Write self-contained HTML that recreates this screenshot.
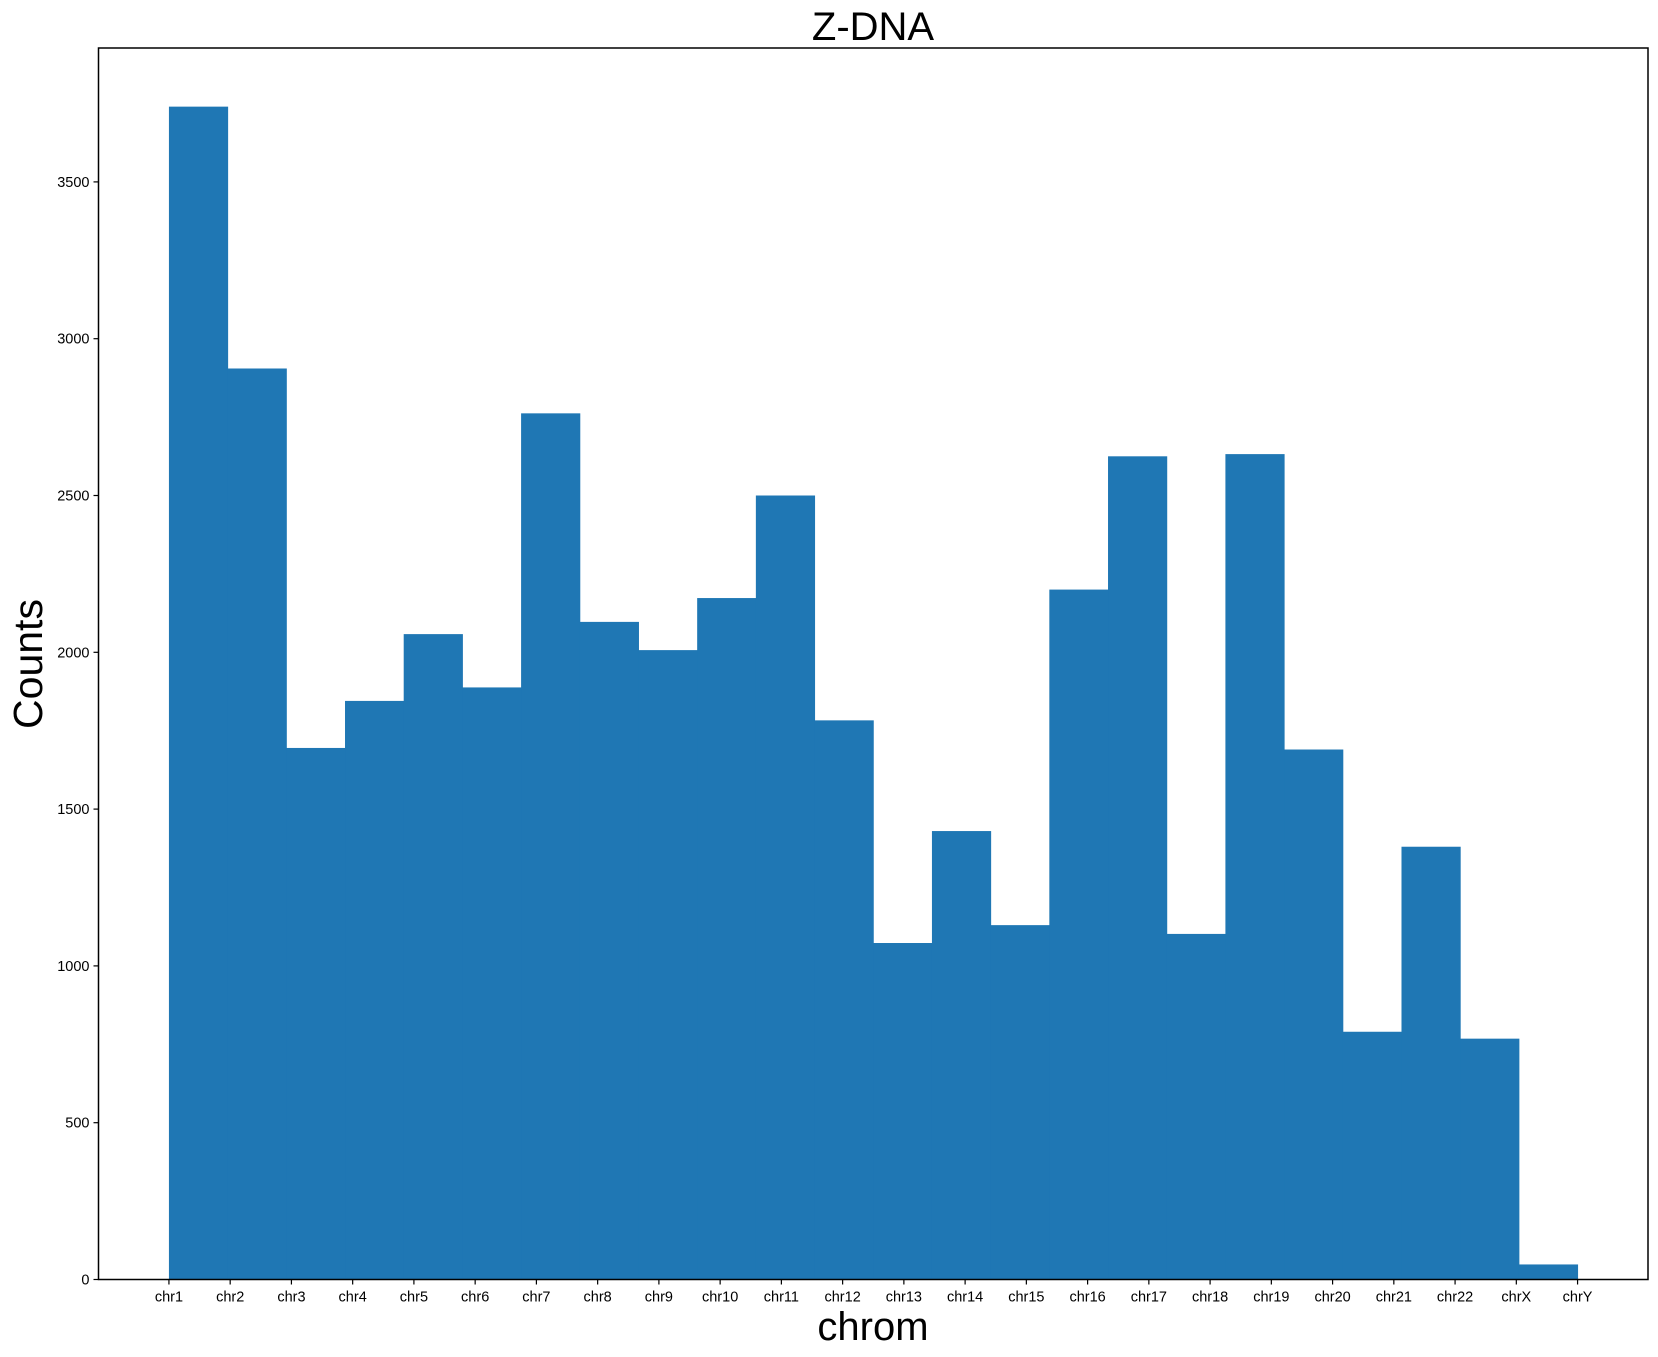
<!DOCTYPE html>
<html><head><meta charset="utf-8"><style>
body{margin:0;background:#fff;}
svg{display:block;font-family:"Liberation Sans","DejaVu Sans",sans-serif;}
</style></head><body>
<svg id="chart" width="1658" height="1357" xmlns="http://www.w3.org/2000/svg">
<text x="873" y="40" font-size="40" text-anchor="middle">Z-DNA</text>
<text x="873" y="1340" font-size="40" text-anchor="middle">chrom</text>
<text transform="translate(42,664) rotate(-90)" font-size="41" text-anchor="middle">Counts</text>
<g id="bars"></g><g id="xt"></g><g id="yt"></g>
<rect x="98.5" y="48" width="1549.5" height="1231.5" fill="none" stroke="#000" stroke-width="1.5"/>
</svg>
<script>
const categories=["chr1","chr2","chr3","chr4","chr5","chr6","chr7","chr8","chr9","chr10","chr11","chr12","chr13","chr14","chr15","chr16","chr17","chr18","chr19","chr20","chr21","chr22","chrX","chrY"];
const counts=[3740,2905,1695,1845,2058,1888,2762,2097,2007,2173,2500,1783,1073,1430,1130,2200,2625,1102,2632,1690,790,1380,768,48];
const yTicks=[0,500,1000,1500,2000,2500,3000,3500];
const L=98.5,R=1648,T=48,B=1279.5;
const n=categories.length-1;
const xmin=-0.05*n,xmax=n+0.05*n;
const ymax=3740*1.05;
const x=v=>L+(v-xmin)/(xmax-xmin)*(R-L);
const y=v=>B-v/ymax*(B-T);
const NS="http://www.w3.org/2000/svg";
const mk=(t,a,p)=>{const e=document.createElementNS(NS,t);for(const k in a)e.setAttribute(k,a[k]);p.appendChild(e);return e;};
const bw=n/counts.length;
const bars=document.getElementById('bars');
counts.forEach((c,i)=>{
 const x0=x(i*bw),x1=x((i+1)*bw);
 const r=mk('rect',{x:x0,y:y(c),width:x1-x0+0.5,height:B-y(c),fill:'#1f77b4'},bars);
 
 
});
const xt=document.getElementById('xt');
categories.forEach((c,i)=>{
 const g=mk('g',{},xt);
 
 
 mk('line',{x1:x(i),x2:x(i),y1:B,y2:B+5,stroke:'#000','stroke-width':1.2},g);
 const t=mk('text',{x:x(i),y:B+22,'font-size':14.5,'text-anchor':'middle'},g);t.textContent=c;
});
const yt=document.getElementById('yt');
yTicks.forEach(v=>{
 const g=mk('g',{},yt);
 
 
 mk('line',{x1:L-5,x2:L,y1:y(v),y2:y(v),stroke:'#000','stroke-width':1.2},g);
 const t=mk('text',{x:L-9,y:y(v)+5,'font-size':14.5,'text-anchor':'end'},g);t.textContent=v;
});
</script>
</body></html>
